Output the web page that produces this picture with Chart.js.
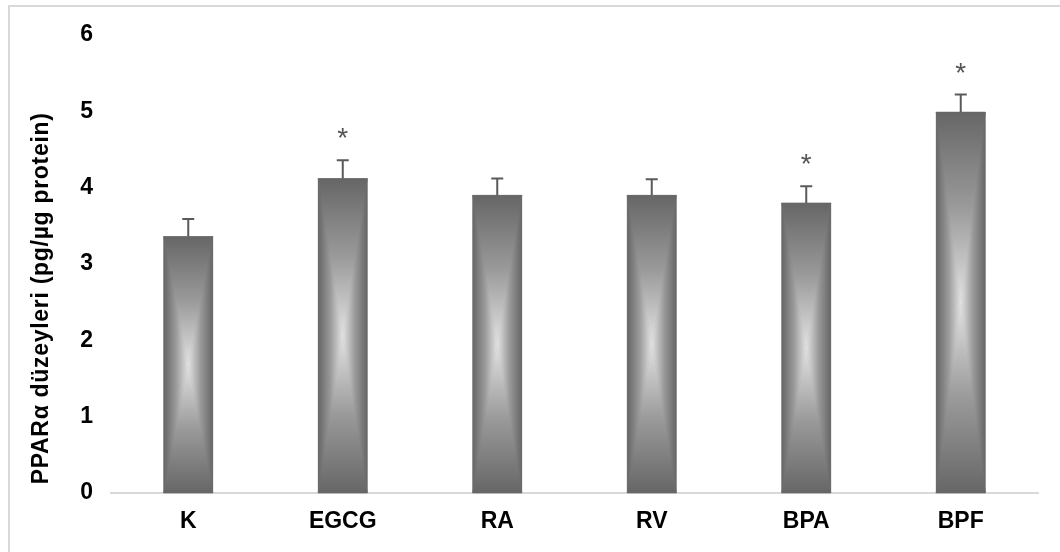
<!DOCTYPE html>
<html>
<head>
<meta charset="utf-8">
<script src="https://cdn.jsdelivr.net/npm/chart.js@4/dist/chart.umd.min.js"></script>
<style>
  html, body { margin: 0; padding: 0; background: #fff; }
  #wrap { position: relative; width: 1060px; height: 552px; }
</style>
</head>
<body>
<div id="wrap"><canvas id="graphic1"></canvas></div>
<script>
var categories = ["K", "EGCG", "RA", "RV", "BPA", "BPF"]
var means = [3.36, 4.12, 3.90, 3.90, 3.80, 4.99]
var sems = [0.23, 0.24, 0.22, 0.21, 0.22, 0.23]
var significant = [false, true, false, false, true, true]
var yTicks = [0, 1, 2, 3, 4, 5, 6]
var yTitle = "PPARα düzeyleri (pg/µg protein)"

var edgeGray = "#666666"
var midGray = "#9a9a9a"
var centerGray = "#e2e2e2"
var fontFamily = "'Liberation Sans', Arial, sans-serif"

function shade(ctx, x0, y0, x1, y1) {
    var g = ctx.createLinearGradient(x0, y0, x1, y1)
    g.addColorStop(0, edgeGray)
    g.addColorStop(0.5, midGray)
    g.addColorStop(1, centerGray)
    return g
}

// bars shaded like concentric rectangles: light at the centre, dark at the edges
var barShading = {
    id: "barShading",
    beforeDraw(chart) {
        var ctx = chart.ctx
        ctx.save()
        ctx.strokeStyle = "#d9d9d9"
        ctx.lineWidth = 2
        ctx.beginPath()
        ctx.moveTo(9, chart.height)
        ctx.lineTo(9, 6)
        ctx.lineTo(chart.width, 6)
        ctx.stroke()
        ctx.restore()
    },
    afterDatasetsDraw(chart) {
        var ctx = chart.ctx
        var yScale = chart.scales.y
        var bars = chart.getDatasetMeta(0).data
        ctx.save()
        bars.forEach(function (bar, i) {
            var l = bar.x - bar.width / 2, r = bar.x + bar.width / 2
            var t = bar.y, b = bar.base
            var cx = bar.x, cy = (t + b) / 2
            var parts = [
                [[l, t], [r, t], shade(ctx, 0, t, 0, cy)],
                [[l, b], [r, b], shade(ctx, 0, b, 0, cy)],
                [[l, t], [l, b], shade(ctx, l, 0, cx, 0)],
                [[r, t], [r, b], shade(ctx, r, 0, cx, 0)]
            ]
            parts.forEach(function (p) {
                ctx.beginPath()
                ctx.moveTo(p[0][0], p[0][1])
                ctx.lineTo(p[1][0], p[1][1])
                ctx.lineTo(cx, cy)
                ctx.closePath()
                ctx.fillStyle = p[2]
                ctx.fill()
                ctx.strokeStyle = p[2]
                ctx.lineWidth = 0.6
                ctx.stroke()
            })

            // error bar (upper half only)
            var top = yScale.getPixelForValue(means[i] + sems[i])
            ctx.strokeStyle = "#5a5a5a"
            ctx.lineWidth = 2
            ctx.beginPath()
            ctx.moveTo(cx, t)
            ctx.lineTo(cx, top)
            ctx.moveTo(cx - 6, top)
            ctx.lineTo(cx + 6, top)
            ctx.stroke()

            if (significant[i]) {
                ctx.fillStyle = "#555555"
                ctx.font = "28px " + fontFamily
                ctx.textAlign = "center"
                ctx.textBaseline = "alphabetic"
                ctx.fillText("*", cx, top - 13)
            }
        })

        // y axis title
        ctx.fillStyle = "#000"
        ctx.font = "bold 23px " + fontFamily
        ctx.textAlign = "center"
        ctx.textBaseline = "middle"
        if ("letterSpacing" in ctx) ctx.letterSpacing = "0.7px"
        ctx.translate(42, yScale.getPixelForValue(2.55))
        ctx.rotate(-Math.PI / 2)
        ctx.fillText(yTitle, 0, 0)
        ctx.restore()
    }
}

var ctx1 = document.getElementById("graphic1").getContext("2d")

var graph = new Chart(ctx1, {
    type: "bar",
    data: {
        labels: categories,
        datasets: [{
            data: means,
            backgroundColor: edgeGray,
            borderWidth: 0,
            categoryPercentage: 1,
            barPercentage: 0.317
        }]
    },
    options: {
        responsive: true,
        maintainAspectRatio: false,
        animation: false,
        events: [],
        layout: { padding: { top: 35, right: 22, bottom: 0, left: 0 } },
        plugins: { legend: { display: false }, tooltip: { enabled: false } },
        scales: {
            x: {
                grid: { display: false, drawTicks: false },
                border: { display: true, color: "#d9d9d9", width: 2 },
                ticks: {
                    color: "#000",
                    padding: 15,
                    font: { family: fontFamily, size: 23, weight: "bold" }
                },
                afterFit(scale) { scale.height = 59 }
            },
            y: {
                min: 0,
                max: 6,
                afterBuildTicks(scale) { scale.ticks = yTicks.map(function (v) { return { value: v } }) },
                grid: { display: false, drawTicks: false },
                border: { display: false },
                ticks: {
                    color: "#000",
                    padding: 18,
                    font: { family: fontFamily, size: 23, weight: "bold" }
                },
                afterFit(scale) { scale.width = 111 }
            }
        }
    },
    plugins: [barShading]
})
</script>
</body>
</html>
